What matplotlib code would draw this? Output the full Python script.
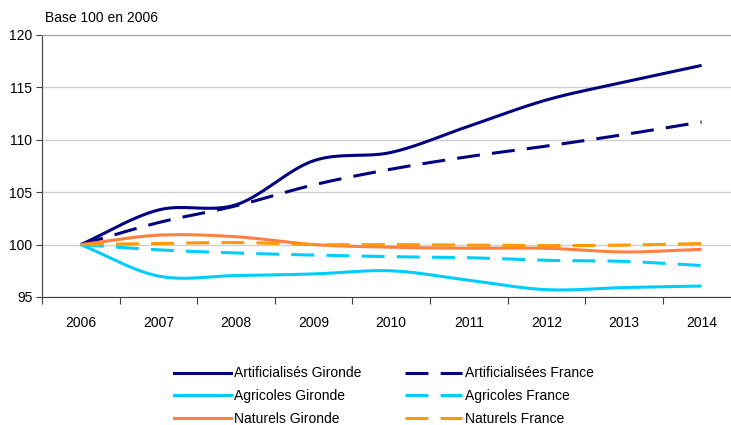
import numpy as np
import matplotlib.pyplot as plt
from matplotlib.lines import Line2D

plt.rcParams['font.family'] = ['Liberation Sans', 'DejaVu Sans']

years = ['2006', '2007', '2008', '2009', '2010', '2011', '2012', '2013', '2014']

artif_gironde = [100, 103.3, 103.8, 108.0, 108.8, 111.3, 113.8, 115.5, 117.1]
artif_france = [100, 102.1, 103.7, 105.7, 107.2, 108.4, 109.4, 110.5, 111.7]
agri_gironde = [100, 97.0, 97.05, 97.2, 97.5, 96.6, 95.7, 95.9, 96.05]
agri_france = [100, 99.5, 99.2, 99.0, 98.85, 98.75, 98.5, 98.4, 98.0]
nat_gironde = [100, 100.9, 100.75, 100.0, 99.75, 99.65, 99.65, 99.3, 99.55]
nat_france = [100, 100.1, 100.2, 100.0, 100.0, 99.95, 99.9, 99.95, 100.1]

labels = ['Artificialisés Gironde', 'Artificialisées France',
          'Agricoles Gironde', 'Agricoles France',
          'Naturels Gironde', 'Naturels France']


def smooth(y, n=20):
    # Catmull-Rom curve through the points, like Excel's smoothed lines
    y = np.asarray(y, dtype=float)
    x = np.arange(len(y), dtype=float)
    px = np.concatenate([[2 * x[0] - x[1]], x, [2 * x[-1] - x[-2]]])
    py = np.concatenate([[2 * y[0] - y[1]], y, [2 * y[-1] - y[-2]]])
    xs, ys = [], []
    t = np.linspace(0, 1, n, endpoint=False)
    for i in range(1, len(px) - 2):
        for arr, out in ((px, xs), (py, ys)):
            p0, p1, p2, p3 = arr[i - 1], arr[i], arr[i + 1], arr[i + 2]
            out.extend(0.5 * (2 * p1 + (-p0 + p2) * t
                              + (2 * p0 - 5 * p1 + 4 * p2 - p3) * t ** 2
                              + (-p0 + 3 * p1 - 3 * p2 + p3) * t ** 3))
    xs.append(x[-1])
    ys.append(y[-1])
    return np.array(xs), np.array(ys)


navy = '#000080'
cyan = '#00CCFF'
coral = '#FF8040'
orange = '#FF9900'
lw = 2.2
dash = (0, (7.5, 4))

series = [
    (artif_gironde, navy, '-'),
    (artif_france, navy, dash),
    (agri_gironde, cyan, '-'),
    (agri_france, cyan, dash),
    (nat_gironde, coral, '-'),
    (nat_france, orange, dash),
]

fig = plt.figure(figsize=(7.31, 4.25), dpi=100)
W, H = 731, 425
ax = fig.add_axes([42 / W, 1 - 297 / H, 698.4 / W, 262 / H])

for vals, col, ls in series:
    xs, ys = smooth(vals)
    ax.plot(xs, ys, color=col, lw=lw, linestyle=ls, solid_capstyle='butt',
            dash_capstyle='butt')

ax.set_xlim(-0.5, 8.5)
ax.set_ylim(95, 120)
ax.set_yticks(np.arange(95, 121, 5))
ax.set_xticks(np.arange(-0.5, 8.6, 1))
ax.set_xticklabels([])
ax.set_xticks(np.arange(len(years)), minor=True)
ax.set_xticklabels(years, minor=True)
ax.tick_params(axis='x', which='minor', length=0, pad=14, labelsize=10)
ax.tick_params(axis='x', which='major', length=5, direction='out', color='#404040')
ax.tick_params(axis='y', length=4, direction='out', labelsize=10, color='#404040', pad=3)

ax.grid(axis='y', color='#D0D0D0', lw=1)
ax.set_axisbelow(True)
ax.spines['right'].set_visible(False)
ax.spines['top'].set_color('#A0A0A0')
ax.spines['left'].set_color('#404040')
ax.spines['bottom'].set_color('#404040')

fig.text(45 / W, 1 - 18 / H, 'Base 100 en 2006', fontsize=10, va='center', ha='left')

handles = [Line2D([], [], color=col, lw=lw, linestyle=ls, dash_capstyle='butt')
           for _, col, ls in series]
# legend fills by column, so put the Gironde series first
order = [0, 2, 4, 1, 3, 5]
fig.legend([handles[i] for i in order], [labels[i] for i in order], ncol=2,
           loc='center', bbox_to_anchor=(384 / W, 1 - 396 / H),
           frameon=False, fontsize=10, handlelength=4.1, handletextpad=0.25,
           columnspacing=3.1, labelspacing=0.62)

fig.savefig('out.png', dpi=100)
